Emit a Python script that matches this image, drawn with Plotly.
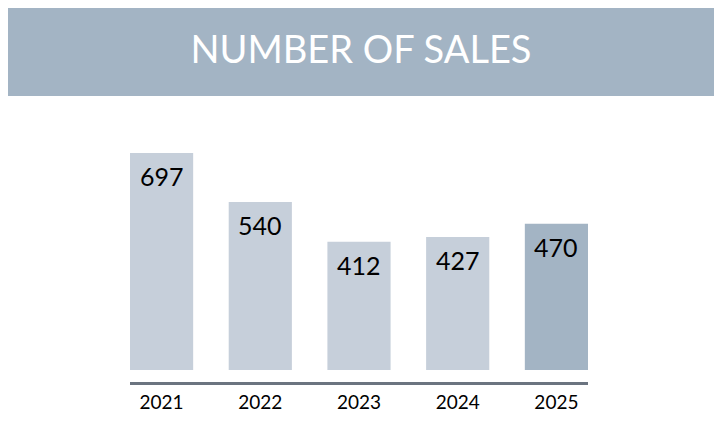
import plotly.graph_objects as go

categories = ["2021", "2022", "2023", "2024", "2025"]
sales = [697, 540, 412, 427, 470]
bar_colors = ["#c6cfda", "#c6cfda", "#c6cfda", "#c6cfda", "#a3b4c4"]
title_text = "NUMBER OF SALES"

fig = go.Figure()
fig.add_trace(go.Bar(
    x=categories, y=sales, width=0.64,
    marker=dict(color=bar_colors, line=dict(width=0)),
    hoverinfo="skip",
))

for i, v in enumerate(sales):
    fig.add_annotation(x=i, y=v, xref="x", yref="y", text=str(v),
                       showarrow=False, yanchor="top", yshift=-6,
                       font=dict(family="Lato", size=25, color="#000000"))

# page offset of the figure inside the browser window
OFF = 8
W, H = 722, 444
L, R = 130 - OFF, W - (588 - OFF)
T, B = 110 - OFF, H - (382 - OFF)
pw, ph = W - L - R, H - T - B
def px(x):
    return (x - OFF - L) / pw
def py(y):
    return (H - B - (y - OFF)) / ph

fig.add_shape(type="rect", xref="paper", yref="paper",
              x0=px(0), x1=px(718), y0=py(96), y1=py(0),
              fillcolor="#a3b4c4", line=dict(width=0), layer="below")

fig.update_layout(
    width=W, height=H,
    margin=dict(l=L, r=R, t=T, b=B),
    paper_bgcolor="white", plot_bgcolor="white",
    showlegend=False,
    title=dict(text=title_text, x=(361 - OFF) / W, xanchor="center",
               y=1 - (50 - OFF) / H, yanchor="middle", yref="container",
               font=dict(family="Lato", size=38, color="white")),
    xaxis=dict(type="category", range=[-0.32, 4.32], showgrid=False,
               zeroline=False, showline=True, linecolor="#6b7480", linewidth=3,
               ticks="", tickfont=dict(family="Lato", size=19, color="#000000"),
               ticklabelstandoff=1),
    yaxis=dict(range=[-38.5, 835.3], visible=False, showgrid=False,
               zeroline=False),
)

fig.write_html("out.html")
